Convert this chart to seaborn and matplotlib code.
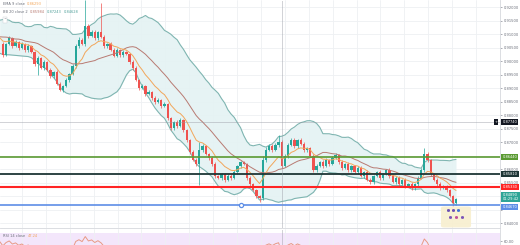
import numpy as np
import pandas as pd
import matplotlib
matplotlib.use("Agg")
import matplotlib.pyplot as plt
import matplotlib.transforms as mtransforms
from matplotlib.patches import FancyBboxPatch
import seaborn as sns

# ---------------- data ----------------
warmup_close = [0.9041, 0.9070, 0.9115, 0.9137, 0.9100, 0.9056, 0.9115, 0.9137, 0.9093, 0.9063,
                0.9033, 0.9078, 0.9115, 0.9130, 0.9100, 0.9056, 0.9085, 0.9115, 0.9093, 0.9063]

close = [0.9022, 0.9063, 0.9085, 0.9056, 0.9070, 0.9048, 0.9063, 0.9041, 0.9056, 0.9033, 0.8989, 0.9011,
         0.8974, 0.8996, 0.8967, 0.8944, 0.8959, 0.8915, 0.8893, 0.8907, 0.8930, 0.8952, 0.8981, 0.9056,
         0.9078, 0.9063, 0.9130, 0.9093, 0.9107, 0.9085, 0.9107, 0.9089, 0.9056, 0.9063, 0.9041, 0.9019,
         0.9041, 0.9022, 0.9033, 0.9026, 0.8996, 0.8974, 0.8930, 0.8900, 0.8907, 0.8878, 0.8885, 0.8863,
         0.8848, 0.8856, 0.8833, 0.8841, 0.8789, 0.8752, 0.8774, 0.8759, 0.8781, 0.8744, 0.8707, 0.8663,
         0.8633, 0.8619, 0.8670, 0.8685, 0.8656, 0.8641, 0.8619, 0.8574, 0.8567, 0.8581, 0.8559, 0.8574,
         0.8567, 0.8589, 0.8611, 0.8626, 0.8619, 0.8567, 0.8544, 0.8522, 0.8500, 0.8493, 0.8633, 0.8670,
         0.8685, 0.8670, 0.8689, 0.8700, 0.8611, 0.8648, 0.8689, 0.8707, 0.8685, 0.8707, 0.8693, 0.8670,
         0.8678, 0.8648, 0.8596, 0.8611, 0.8626, 0.8611, 0.8633, 0.8619, 0.8641, 0.8652, 0.8626, 0.8604,
         0.8619, 0.8596, 0.8611, 0.8589, 0.8604, 0.8574, 0.8589, 0.8559, 0.8552, 0.8574, 0.8589, 0.8567,
         0.8581, 0.8596, 0.8574, 0.8552, 0.8567, 0.8544, 0.8559, 0.8537, 0.8544, 0.8530, 0.8544, 0.8567,
         0.8596, 0.8656, 0.8633, 0.8581, 0.8559, 0.8544, 0.8530, 0.8537, 0.8522, 0.8500, 0.8474, 0.8489]

upper_wick_pips = [6, 5, 7, 4, 6, 5, 8, 5, 6, 5, 5, 6,
                   5, 7, 4, 6, 5, 6, 8, 5, 6, 5, 7, 8,
                   10, 6, 96, 8, 6, 7, 5, 108, 6, 5, 8, 6,
                   7, 5, 6, 5, 4, 6, 8, 5, 6, 5, 7, 5,
                   6, 8, 5, 6, 5, 4, 5, 6, 7, 6, 5, 4,
                   6, 8, 30, 6, 5, 4, 6, 8, 5, 6, 5, 7,
                   8, 6, 5, 4, 5, 5, 6, 5, 4, 5, 15, 10,
                   6, 8, 7, 26, 6, 8, 7, 6, 8, 5, 6, 7,
                   5, 4, 6, 8, 5, 7, 8, 5, 6, 6, 5, 7,
                   5, 6, 4, 5, 7, 8, 5, 6, 7, 5, 4, 6,
                   5, 5, 6, 7, 8, 6, 5, 7, 5, 6, 5, 7,
                   8, 22, 6, 5, 4, 6, 7, 5, 4, 5, 3, 4]

lower_wick_pips = [6, 5, 4, 7, 5, 6, 5, 6, 7, 5, 6, 40,
                   5, 6, 5, 8, 6, 5, 4, 6, 5, 6, 5, 7,
                   6, 5, 7, 6, 5, 6, 8, 5, 6, 7, 5, 6,
                   5, 7, 6, 5, 6, 8, 5, 6, 5, 6, 5, 7,
                   6, 5, 6, 5, 7, 6, 8, 6, 5, 6, 7, 6,
                   5, 8, 78, 6, 5, 6, 7, 6, 5, 8, 6, 5,
                   6, 5, 7, 6, 5, 6, 7, 5, 6, 15, 8, 6,
                   5, 6, 5, 8, 6, 5, 6, 5, 7, 6, 5, 6,
                   8, 5, 6, 7, 5, 6, 5, 7, 6, 5, 6, 7,
                   5, 6, 8, 5, 6, 5, 6, 5, 7, 6, 5, 6,
                   8, 5, 6, 5, 6, 8, 5, 6, 5, 6, 7, 6,
                   5, 6, 7, 6, 5, 6, 7, 5, 6, 5, 11, 6]

price_ticks = [0.8400, 0.8450, 0.8500, 0.8550, 0.8600, 0.8650, 0.8700, 0.8750, 0.8800,
               0.8850, 0.8900, 0.8950, 0.9000, 0.9050, 0.9100, 0.9150, 0.9200]
level_green = 0.8644
level_dark = 0.8581
level_red = 0.8533
level_blue = 0.8467
crosshair_price = 0.8774
crosshair_bar = 88
marker_bar = 75
countdown = "01:29:42"
ema_legend = "0.86293"
bb_legend = ["0.85984", "0.87243", "0.84628"]
rsi_legend = "47.24"
rsi_ticks = [60.00]

# ---------------- indicators ----------------
all_close = pd.Series(warmup_close + close)
n_warm = len(warmup_close)
basis = all_close.rolling(20).mean()
dev = all_close.rolling(20).std(ddof=0)
upper = basis + 2 * dev
lower = basis - 2 * dev
ema = all_close.ewm(span=9, adjust=False).mean()
delta = all_close.diff()
gain = delta.clip(lower=0).ewm(alpha=1 / 14, adjust=False).mean()
loss = (-delta.clip(upper=0)).ewm(alpha=1 / 14, adjust=False).mean()
rsi = 100 - 100 / (1 + gain / loss)

ind = pd.DataFrame({
    "bar": np.arange(len(all_close)) - n_warm,
    "basis": basis, "upper": upper, "lower": lower, "ema": ema, "rsi": rsi,
})
ind = ind[ind["bar"] >= -1]

c = np.array(close)
o = np.array([warmup_close[-1]] + close[:-1])
hi = np.maximum(o, c) + np.array(upper_wick_pips) * 1e-4
lo = np.minimum(o, c) - np.array(lower_wick_pips) * 1e-4
bars = np.arange(len(close))
up = c >= o
col_up, col_dn = "#26a69a", "#ef5350"
colors = np.where(up, col_up, col_dn)

# ---------------- figure ----------------
sns.set_theme(style="white")
plt.rcParams['font.family'] = ['DejaVu Sans']

W, H = 520, 245
FS = 2.6
fig = plt.figure(figsize=(W / 100, H / 100), dpi=100)
fig.patch.set_facecolor("white")
ax = fig.add_axes([0, 1 - 228 / H, 500 / W, 228 / H])
axr = fig.add_axes([0, 0, 500 / W, 16 / H], sharex=ax)

step = 474 / (len(close) - 1)          # pixels per bar
ax.set_xlim(-3 / step, 497 / step)
ax.set_ylim(0.84 - 5 * 0.005 / 13.5, 0.84 + 223 * 0.005 / 13.5)

grid_c = "#eef0f3"
vgrid = (np.arange(-2, 500, 25) + 22) / step
for a in (ax, axr):
    a.set_facecolor("white")
    a.set_xticks(vgrid)
    a.tick_params(axis="x", bottom=False, labelbottom=False)
    a.grid(axis="x", color=grid_c, lw=0.6)
    for s in ("top", "left", "bottom"):
        a.spines[s].set_visible(False)
    a.spines["right"].set_color("#d6d8dd")
    a.spines["right"].set_linewidth(0.6)

# label boxes on the price scale: (anchor price, text, colour)
last_box_y = close[-1] + 0.0008
blue_box_y = level_blue - 0.0009
boxes = [
    (crosshair_price, f"{crosshair_price:.5f}", "#131722"),
    (level_green, f"{level_green:.5f}", "#5a9a32"),
    (level_dark, f"{level_dark:.5f}", "#1d3535"),
    (level_red, f"{level_red:.5f}", "#ff2424"),
    (blue_box_y, f"{level_blue:.5f}", "#5d8ee6"),
    (last_box_y, f"{close[-1]:.5f}\n{countdown}", "#2fa597"),
]

# tick labels hidden where a price-scale box sits (as the trading platform does)
box_ys = np.array([b[0] for b in boxes])
tick_txt = []
for t in price_ticks:
    near = np.min(np.abs(box_ys - t))
    tick_txt.append("" if near < 0.0016 else f"{t:.5f}")
ax.set_yticks(price_ticks)
ax.set_yticklabels(tick_txt)
ax.yaxis.tick_right()
ax.tick_params(axis="y", labelsize=FS, colors="#6b6f7a", length=1.5, width=0.4, pad=1.2)
ax.grid(axis="y", color=grid_c, lw=0.6)
ax.spines["bottom"].set_visible(True)
ax.spines["bottom"].set_color("#d6d8dd")
ax.spines["bottom"].set_linewidth(0.6)

# Bollinger band
band_line = "#7fb5b1"
ax.fill_between(ind["bar"], ind["lower"], ind["upper"], color="#e4f2f3", alpha=0.9, lw=0, zorder=1)
sns.lineplot(data=ind, x="bar", y="upper", ax=ax, color=band_line, lw=0.8, zorder=2)
sns.lineplot(data=ind, x="bar", y="lower", ax=ax, color=band_line, lw=0.8, zorder=2)

# candles
ax.vlines(bars, lo, hi, colors=colors, lw=0.5, zorder=3)
body = np.maximum(np.abs(c - o), 0.00012)
ax.bar(bars, body, bottom=np.minimum(o, c), width=0.72, color=colors, lw=0, zorder=3)

sns.lineplot(data=ind, x="bar", y="basis", ax=ax, color="#b87a72", lw=0.7, zorder=4)
sns.lineplot(data=ind, x="bar", y="ema", ax=ax, color="#f2a65a", lw=0.7, zorder=4)

# horizontal levels
ax.axhline(level_green, color="#5a9a32", lw=1.2, zorder=5)
ax.axhline(level_dark, color="#1d3535", lw=1.3, zorder=5)
ax.axhline(level_red, color="#ff2424", lw=1.5, zorder=5)
ax.axhline(level_blue, color="#5d8ee6", lw=1.2, zorder=5)
ax.scatter([marker_bar], [level_blue], s=9, facecolor="white", edgecolor="#5d8ee6", lw=0.9, zorder=6)

# crosshair
ax.axhline(crosshair_price, color="#9598a1", lw=0.6, ls=(0, (1.2, 1.2)), zorder=6)
for a in (ax, axr):
    a.axvline(crosshair_bar, color="#9598a1", lw=0.6, ls=(0, (1.2, 1.2)), zorder=6)

ax.set_xlabel("")
ax.set_ylabel("")

# logo badge (bottom right of the chart)
fig.patches.append(FancyBboxPatch((442 / W, 1 - 227 / H), 28 / W, 20 / H,
                                  boxstyle="round,pad=0.002,rounding_size=0.006",
                                  transform=fig.transFigure, fc="#f8efcf", ec="none",
                                  alpha=0.9, zorder=7))
for (bx, by, bc) in [(447, 212, "#6a4fb3"), (452, 212, "#6a4fb3"), (457, 212, "#3f6fd6"),
                     (449, 219, "#7a54b8"), (455, 219, "#c04f9a"), (461, 219, "#7a54b8")]:
    fig.patches.append(FancyBboxPatch((bx / W, 1 - by / H), 3 / W, 3 / H,
                                      boxstyle="round,pad=0,rounding_size=0.004",
                                      transform=fig.transFigure, fc=bc, ec="none", zorder=8))

# price-scale boxes
tr = mtransforms.blended_transform_factory(ax.transAxes, ax.transData)
for y, txt, fc in boxes:
    ax.text(1.005, y, txt, transform=tr, fontsize=FS, color="white", va="center", ha="left",
            linespacing=1.0,
            bbox=dict(boxstyle="square,pad=0.28", fc=fc, ec="none"), clip_on=False, zorder=20)
ax.text(0.992, crosshair_price, "+", transform=tr, fontsize=FS, color="white", va="center",
        ha="center", bbox=dict(boxstyle="square,pad=0.25", fc="#131722", ec="none"), zorder=20)

# legends (top-left), placed sequentially
fig.canvas.draw()
renderer = fig.canvas.get_renderer()


def legend_row(ypx, parts, x0=3, gap=2.2):
    x = x0
    for s, colr in parts:
        t = fig.text(x / W, 1 - ypx / H, s, fontsize=FS, color=colr, va="center", ha="left")
        x += t.get_window_extent(renderer).width + gap


legend_row(4, [("EMA 9 close", "#6b6f7a"), (ema_legend, "#f2a65a")])
legend_row(12, [("BB 20 close 2", "#6b6f7a"), (bb_legend[0], "#b87a72"),
                (bb_legend[1], "#4f9f99"), (bb_legend[2], "#4f9f99")])
fig.text(5 / W, 1 - 20 / H, "^", fontsize=FS, color="#6b6f7a", va="center", ha="center",
         bbox=dict(boxstyle="square,pad=0.2", fc="white", ec="#c9ccd3", lw=0.3))

# RSI pane
axr.set_ylim(55, 75)
axr.axhspan(30, 70, color="#f3e6fb", lw=0, zorder=0)
sns.lineplot(data=ind, x="bar", y="rsi", ax=axr, color="#e89a86", lw=0.7, zorder=3)
axr.set_yticks(rsi_ticks)
axr.set_yticklabels([f"{t:.2f}" for t in rsi_ticks])
axr.yaxis.tick_right()
axr.tick_params(axis="y", labelsize=FS, colors="#6b6f7a", length=1.5, width=0.4, pad=1.2)
axr.set_xlabel("")
axr.set_ylabel("")
fig.canvas.draw()
legend_row(236, [("RSI 14 close", "#6b6f7a"), (rsi_legend, "#f2a65a")])

fig.savefig("out.png", dpi=100)
